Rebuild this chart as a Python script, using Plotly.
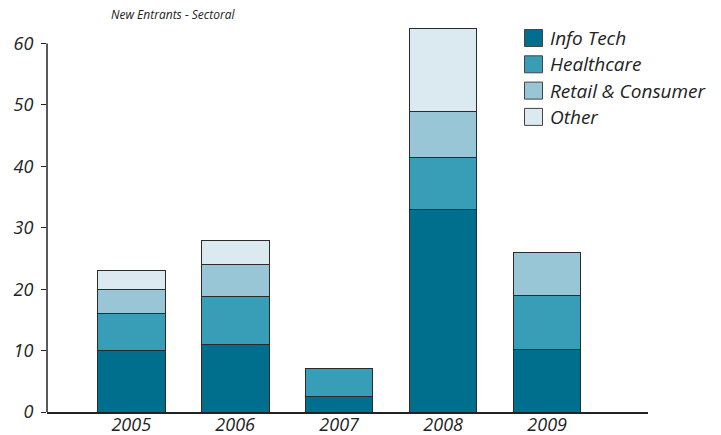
import plotly.graph_objects as go

years = ["2005", "2006", "2007", "2008", "2009"]
series_names = ["Info Tech", "Healthcare", "Retail & Consumer", "Other"]
info_tech = [10, 11, 2.5, 33, 10.2]
healthcare = [6, 7.8, 4.6, 8.4, 8.8]
retail = [4, 5.2, 0, 7.5, 7]
other = [3, 4, 0, 13.6, 0]
colors = ["#006f8e", "#389db7", "#98c6d7", "#dbe9f0"]
y_ticks = [0, 10, 20, 30, 40, 50, 60]
title_text = "New Entrants - Sectoral"

values = [info_tech, healthcare, retail, other]
FONT = "Open Sans"

fig = go.Figure()
for name, vals, col in zip(series_names, values, colors):
    fig.add_trace(go.Bar(
        x=years, y=vals, name=name,
        marker=dict(color=col, line=dict(color="#2b2b2b", width=1)),
        width=0.65, showlegend=False,
    ))

fig.update_layout(
    barmode="stack",
    width=721, height=435,
    margin=dict(l=47, r=73, t=19, b=23, autoexpand=False),
    paper_bgcolor="white", plot_bgcolor="white",
    font=dict(family=FONT, size=17, color="#222", style="italic"),
    xaxis=dict(
        range=[-0.81, 4.97], showgrid=False, zeroline=False, automargin=False,
        showline=True, linecolor="#222", linewidth=1.5,
        ticks="", ticklabelstandoff=-4,
        tickfont=dict(family=FONT, size=18, color="#222", style="italic"),
    ),
    yaxis=dict(
        range=[0, 64], showgrid=False, zeroline=False, showline=False, automargin=False,
        tickvals=y_ticks, ticks="outside", ticklen=5, tickcolor="#222", tickwidth=1.2,
        ticklabelstandoff=4,
        tickfont=dict(family=FONT, size=18, color="#222", style="italic"),
    ),
)

# y axis line only up to 60
fig.add_shape(type="line", xref="paper", yref="y", x0=0, x1=0, y0=0, y1=y_ticks[-1],
              line=dict(color="#222", width=1.5))

# title
fig.add_annotation(text=title_text, xref="paper", yref="paper",
                   x=(173 - 47) / (721 - 47 - 73), y=(435 - 15 - 23) / (435 - 19 - 23),
                   xanchor="center", yanchor="middle", showarrow=False,
                   font=dict(family=FONT, size=12, color="#222", style="italic"))

# manual legend
for i, (name, col) in enumerate(zip(series_names, colors)):
    yc = 38 + i * 26.3
    fig.add_shape(type="rect", xref="paper", yref="paper",
                  x0=(524.5 - 47) / 601, x1=(542.5 - 47) / 601,
                  y0=(435 - 23 - (yc + 8.5)) / 393, y1=(435 - 23 - (yc - 8.5)) / 393,
                  fillcolor=col, line=dict(color="#444", width=1))
    fig.add_annotation(text=name, xref="paper", yref="paper",
                       x=(548 - 47) / 601, y=(435 - 23 - yc) / 393,
                       xanchor="left", yanchor="middle", showarrow=False,
                       font=dict(family=FONT, size=19, color="#222", style="italic"))

fig.write_html("out.html")
